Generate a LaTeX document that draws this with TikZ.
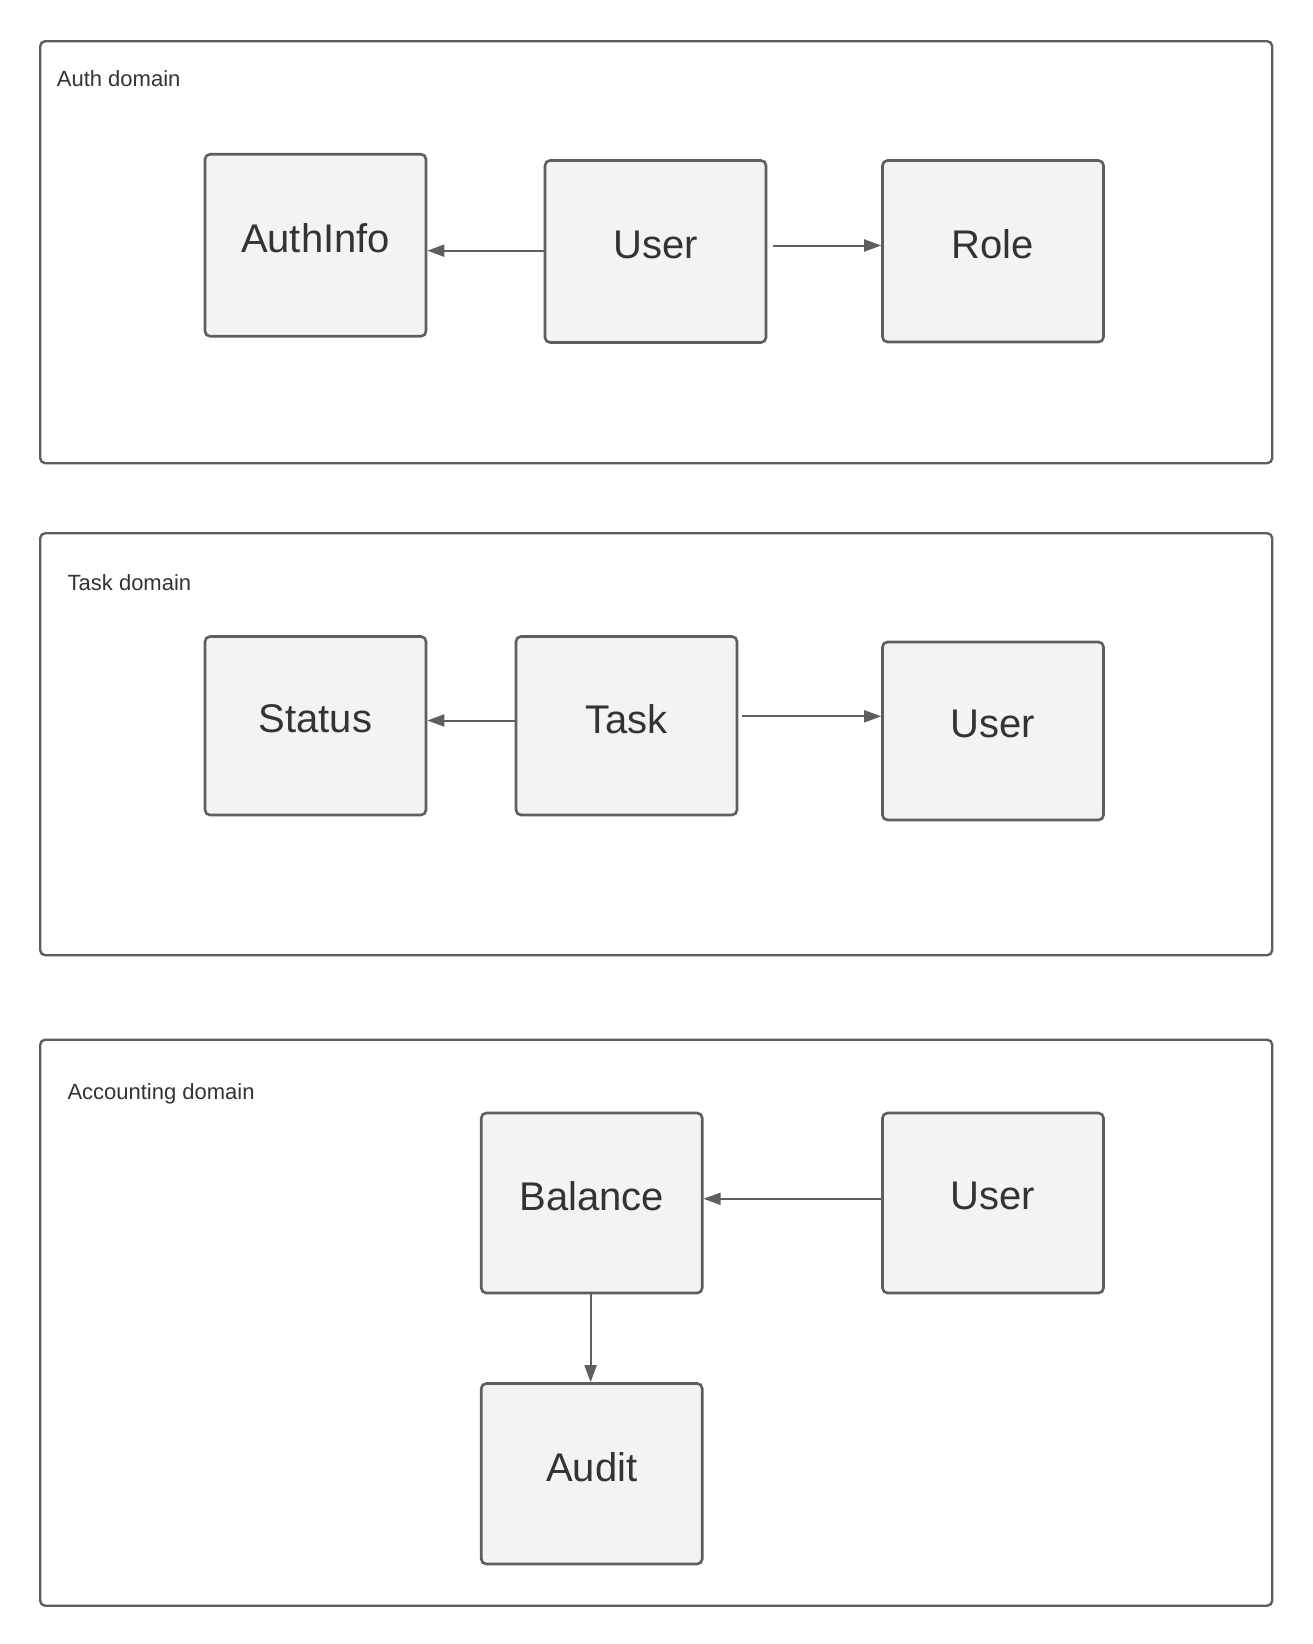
\documentclass[tikz,border=0pt]{standalone}
\usepackage{fontspec}
\setmainfont{Liberation Sans}
\usetikzlibrary{arrows.meta}
\definecolor{edgegray}{HTML}{5E5E5E}
\definecolor{boxfill}{HTML}{F2F3F5}
\definecolor{txtgray}{HTML}{333333}
\tikzset{
  domainbox/.style={draw=edgegray, line width=2.4pt, rounded corners=5pt, fill=white, anchor=north west, inner sep=0pt},
  domainlabel/.style={anchor=base west, inner sep=0pt, text=txtgray, font=\fontsize{22}{26}\selectfont},
  entity/.style={draw=edgegray, line width=2.6pt, rounded corners=5pt, fill=boxfill, text=txtgray,
    font=\fontsize{40}{48}\selectfont, minimum width=221pt, text depth=14.5pt, inner sep=0pt},
  arr/.style={draw=edgegray, line width=2pt, -{Triangle[length=17pt,width=12pt]}}
}
\begin{document}
\begin{tikzpicture}[x=1pt,y=-1pt]
\useasboundingbox (0,0) rectangle (1312,1644);
% domains
\node[domainbox, minimum width=1232pt, minimum height=422pt] (authdom) at (39,40) {};
\node[domainbox, minimum width=1232pt, minimum height=422pt] (taskdom) at (39,532) {};
\node[domainbox, minimum width=1232pt, minimum height=566pt] (accdom) at (39,1038.5) {};
\node[domainlabel] (authlbl) at (56.7,86.7) {Auth domain};
\node[domainlabel] (tasklbl) at (67.5,590.7) {Task domain};
\node[domainlabel] (acclbl) at (67.3,1099.3) {Accounting domain};
% auth domain
\node[entity, minimum height=182pt] (authinfo) at (315.5,245.25) {AuthInfo};
\node[entity, minimum height=182pt] (user) at (655.5,251.5) {User};
\node[entity, minimum height=181.5pt] (role) at (993,251.25) {Role};
% task domain
\node[entity, minimum height=178.5pt] (status) at (315.5,725.75) {Status};
\node[entity, minimum height=178.5pt] (task) at (626.5,725.75) {Task};
\node[entity, minimum height=178pt] (user2) at (993,731) {User};
% accounting domain
\node[entity, minimum height=180pt] (balance) at (591.75,1203) {Balance};
\node[entity, minimum height=180pt] (user3) at (993,1203) {User};
\node[entity, minimum height=180.5pt] (audit) at (591.75,1473.75) {Audit};
% connectors
\draw[arr] (user.west |- 0,250.7) -- (authinfo.east |- 0,250.7);
\draw[arr] ([xshift=6pt]user.east |- 0,245.5) -- (role.west |- 0,245.5);
\draw[arr] (task.west |- 0,720.5) -- (status.east |- 0,720.5);
\draw[arr] ([xshift=3.5pt]task.east |- 0,716.3) -- (user2.west |- 0,716.3);
\draw[arr] (user3.west |- 0,1198.8) -- (balance.east |- 0,1198.8);
\draw[arr] (balance.south -| 590.6,0) -- (audit.north -| 590.6,0);
\end{tikzpicture}
\end{document}
